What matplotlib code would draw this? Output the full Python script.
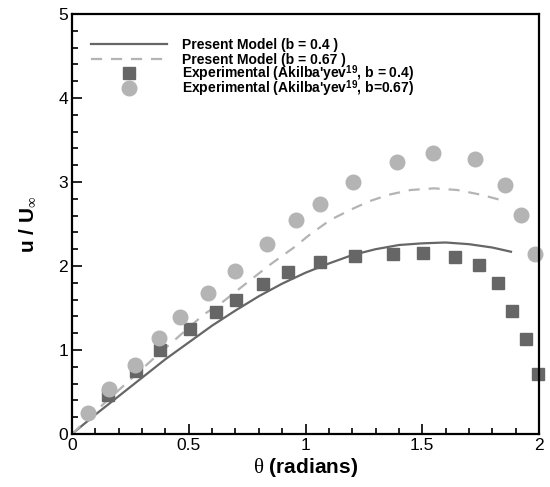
import matplotlib

matplotlib.use("Agg")

import matplotlib.pyplot as plt
from matplotlib.ticker import FuncFormatter, MultipleLocator

plt.rcParams["font.family"] = ["Liberation Sans", "DejaVu Sans"]
plt.rcParams["mathtext.fontset"] = "custom"
plt.rcParams["mathtext.rm"] = "Liberation Serif"
plt.rcParams["mathtext.bf"] = "Liberation Sans:bold"
plt.rcParams["mathtext.it"] = "Liberation Serif"

DARK = "#666666"
LIGHT = "#b4b4b4"

# present model, b = 0.4 (solid)
model_04_theta = [0.0, 0.1, 0.2, 0.3, 0.4, 0.5, 0.6, 0.7, 0.8, 0.9, 1.0, 1.1, 1.2,
                  1.3, 1.4, 1.5, 1.6, 1.7, 1.8, 1.88]
model_04_u = [0.0, 0.23, 0.45, 0.67, 0.89, 1.09, 1.29, 1.47, 1.64, 1.79, 1.92, 2.03,
              2.13, 2.20, 2.25, 2.27, 2.28, 2.26, 2.22, 2.17]

# present model, b = 0.67 (dashed)
model_067_theta = [0.0, 0.14, 0.346, 0.563, 0.649, 0.749, 0.85, 0.95, 1.021, 1.107,
                   1.193, 1.272, 1.358, 1.45, 1.55, 1.65, 1.75, 1.858]
model_067_u = [0.0, 0.37, 0.89, 1.42, 1.58, 1.80, 2.02, 2.22, 2.38, 2.55, 2.67, 2.77,
               2.85, 2.905, 2.925, 2.905, 2.85, 2.77]

# experimental, b = 0.4 (squares)
exp_04_theta = [0.153, 0.272, 0.378, 0.504, 0.616, 0.702, 0.817, 0.925, 1.063, 1.212,
                1.373, 1.502, 1.642, 1.744, 1.824, 1.883, 1.944, 1.994]
exp_04_u = [0.46, 0.755, 0.995, 1.25, 1.456, 1.60, 1.78, 1.925, 2.044, 2.12, 2.146,
            2.155, 2.107, 2.016, 1.80, 1.468, 1.13, 0.71]

# experimental, b = 0.67 (circles)
exp_067_theta = [0.07, 0.16, 0.268, 0.372, 0.464, 0.582, 0.698, 0.833, 0.961, 1.063,
                 1.203, 1.393, 1.544, 1.724, 1.854, 1.924, 1.984]
exp_067_u = [0.25, 0.535, 0.82, 1.14, 1.39, 1.675, 1.945, 2.26, 2.55, 2.74, 3.0, 3.24,
             3.34, 3.27, 2.97, 2.61, 2.14]

labels = [
    "Present Model (b = 0.4 )",
    "Present Model (b = 0.67 )",
    r"Experimental (Akilba'yev$^{\mathbf{19}}$, b = 0.4)",
    r"Experimental (Akilba'yev$^{\mathbf{19}}$, b=0.67)",
]

fig = plt.figure(figsize=(5.5, 4.87), dpi=100)
ax = fig.add_axes([0.131, 0.109, 0.849, 0.862])

styles = [
    dict(color=DARK, lw=1.6),
    dict(color=LIGHT, lw=1.6, dashes=(5, 4)),
    dict(ls="none", marker="s", ms=8, color=DARK, mec=DARK),
    dict(ls="none", marker="o", ms=10.5, color=LIGHT, mec=LIGHT),
]

ax.plot(model_04_theta, model_04_u, **styles[0])
ax.plot(model_067_theta, model_067_u, **styles[1])
ax.plot(exp_04_theta, exp_04_u, clip_on=False, **styles[2])
ax.plot(exp_067_theta, exp_067_u, clip_on=False, **styles[3])

# legend drawn by hand so the rows stay evenly spaced
row_y = 0.929
for i, (label, st) in enumerate(zip(labels, styles)):
    y = row_y - i * 0.0352
    if st.get("ls") == "none":
        ax.plot([0.122], [y], transform=ax.transAxes, clip_on=False, **st)
    else:
        ax.plot([0.041, 0.203], [y, y], transform=ax.transAxes, clip_on=False, **st)
    ax.text(0.236, y - 0.0115, label, transform=ax.transAxes, fontsize=10,
            fontweight="bold", va="baseline", ha="left")

ax.set_xlim(0, 2)
ax.set_ylim(0, 5)
ax.xaxis.set_major_locator(MultipleLocator(0.5))
ax.xaxis.set_minor_locator(MultipleLocator(0.1))
ax.yaxis.set_major_locator(MultipleLocator(1))
ax.yaxis.set_minor_locator(MultipleLocator(0.2))
ax.xaxis.set_major_formatter(FuncFormatter(lambda v, p: f"{v:g}"))
ax.yaxis.set_major_formatter(FuncFormatter(lambda v, p: f"{v:g}"))
ax.tick_params(which="both", direction="in", top=False, right=False, width=1.2,
               labelsize=12.5, pad=3)
ax.tick_params(which="major", length=7.5)
ax.tick_params(which="minor", length=4)
for spine in ax.spines.values():
    spine.set_linewidth(1.6)

ax.set_xlabel(r"$\theta$ (radians)", fontsize=15, fontweight="bold", labelpad=2)
ax.set_ylabel(r"u / U$_{\infty}$", fontsize=15, fontweight="bold", labelpad=15)

fig.savefig("out.png", dpi=100)
